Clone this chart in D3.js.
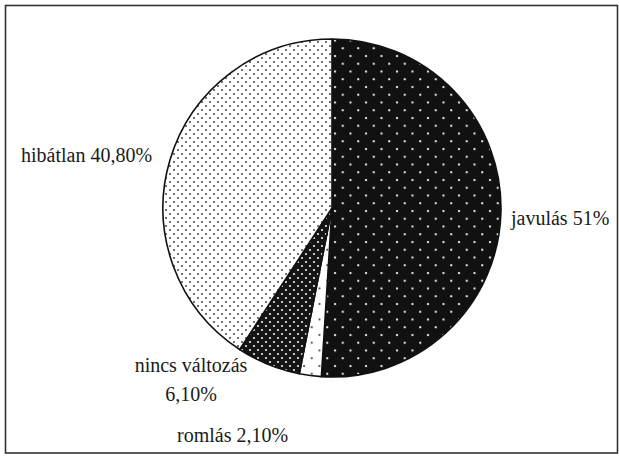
<!DOCTYPE html>
<html>
<head>
<meta charset="utf-8">
<script src="https://cdn.jsdelivr.net/npm/d3@7/dist/d3.min.js"></script>
<style>
  html, body { margin: 0; padding: 0; background: #fff; }
  svg { display: block; }
  text { font-family: "Liberation Serif", "Times New Roman", serif; fill: #1a1a1a; }
</style>
</head>
<body>
<svg id="chart" width="619" height="456"></svg>
<script>
// ---- data ----
const categories = ["javulás", "romlás", "nincs változás", "hibátlan"];
const values = [51, 2.1, 6.1, 40.8];
const valueLabels = ["51%", "2,10%", "6,10%", "40,80%"];

// ---- layout / style (kept apart from data) ----
const W = 619, H = 456;
const cx = 332, cy = 208, R = 169;
const patternIds = ["pJav", "pRom", "pNincs", "pHib"];
// label text lines and anchor placements per category
const labelLayout = [
  { lines: ["javulás 51%"], x: 511, y: 225, anchor: "start" },
  { lines: ["romlás 2,10%"], x: 177, y: 442, anchor: "start" },
  { lines: ["nincs változás", "6,10%"], x: 191, y: 372, anchor: "middle", dy: 28.5 },
  { lines: ["hibátlan 40,80%"], x: 21, y: 162, anchor: "start" }
];

const svg = d3.select("#chart");
svg.append("rect").attr("width", W).attr("height", H).attr("fill", "#fff");

const defs = svg.append("defs");
function dotPattern(id, size, bg, dot, r, pts) {
  const p = defs.append("pattern").attr("id", id)
    .attr("patternUnits", "userSpaceOnUse")
    .attr("width", size).attr("height", size);
  p.append("rect").attr("width", size).attr("height", size).attr("fill", bg);
  pts.forEach(([x, y]) => p.append("circle").attr("cx", x).attr("cy", y).attr("r", r).attr("fill", dot));
}
dotPattern("pJav", 15.5, "#111", "#f4f4f4", 1.15, [[3, 3], [10.75, 10.75]]);
dotPattern("pRom", 15.5, "#fff", "#333", 1.0, [[3, 3], [10.75, 10.75]]);
dotPattern("pNincs", 8, "#151515", "#eee", 1.1, [[2, 2], [6, 6]]);
dotPattern("pHib", 8, "#fff", "#444", 1.0, [[2, 2], [6, 6]]);

// frame
svg.append("rect").attr("x", 5.5).attr("y", 5.5).attr("width", 612).attr("height", 447.5)
  .attr("fill", "none").attr("stroke", "#333").attr("stroke-width", 1.6);

const pie = d3.pie().sort(null).value(d => d)(values);
const arc = d3.arc().innerRadius(0).outerRadius(R);

const g = svg.append("g").attr("transform", `translate(${cx},${cy})`);
g.selectAll("path").data(pie).join("path")
  .attr("d", arc)
  .attr("fill", (d, i) => `url(#${patternIds[i]})`)
  .attr("stroke", "#111")
  .attr("stroke-width", 1.6)
  .attr("stroke-linejoin", "round");

// labels
categories.forEach((c, i) => {
  const L = labelLayout[i];
  const t = svg.append("text")
    .attr("x", L.x).attr("y", L.y)
    .attr("text-anchor", L.anchor)
    .attr("font-size", 20);
  L.lines.forEach((line, j) => {
    t.append("tspan").attr("x", L.x).attr("dy", j === 0 ? 0 : L.dy).text(line);
  });
});
</script>
</body>
</html>
